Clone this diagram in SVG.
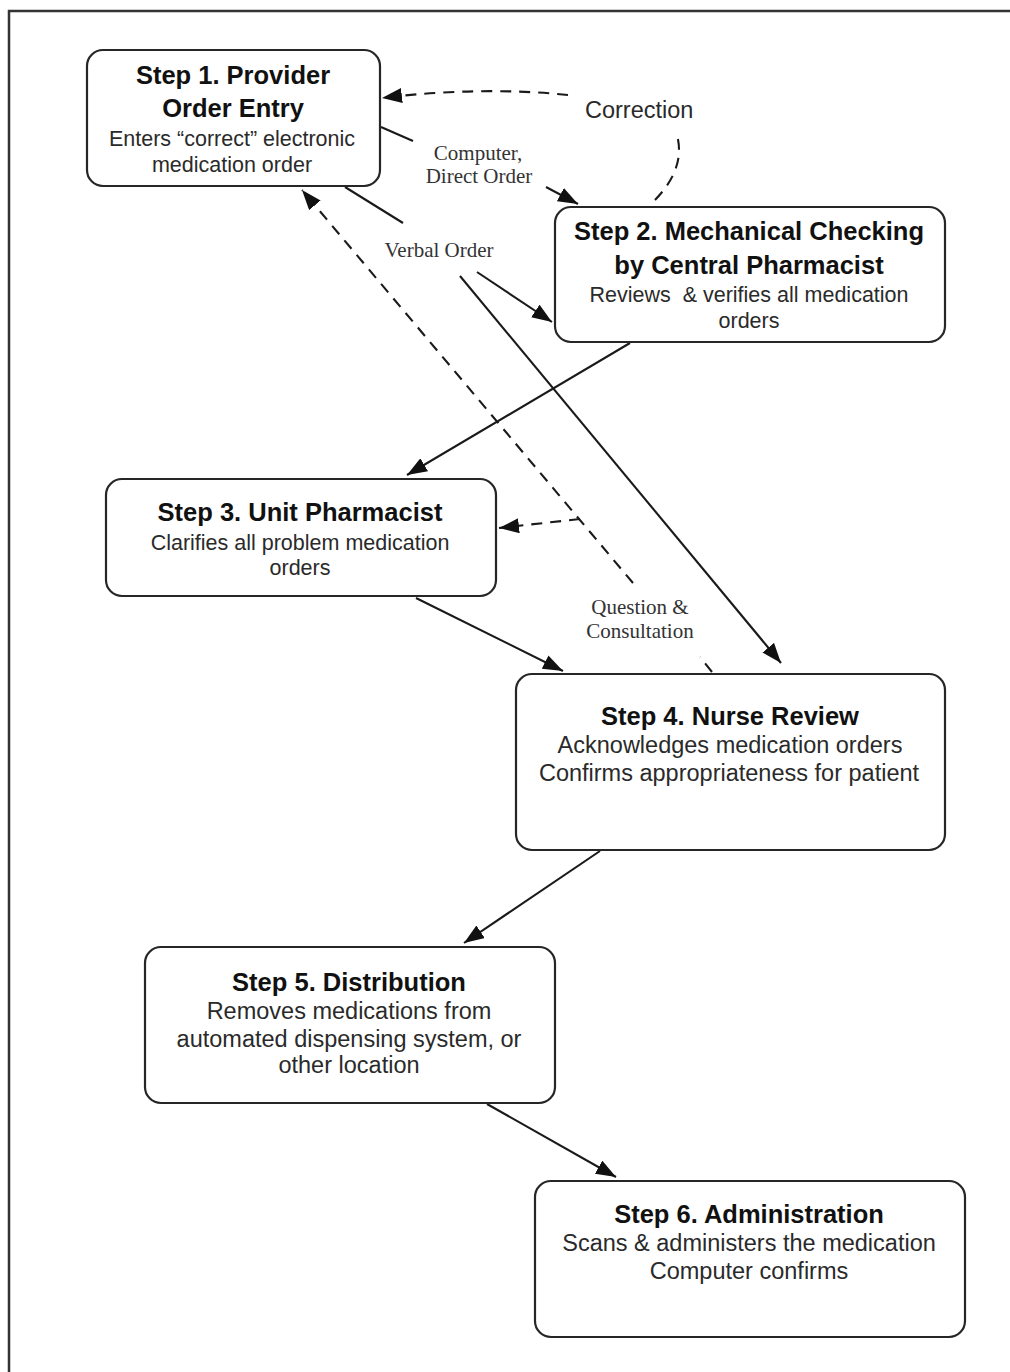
<svg xmlns="http://www.w3.org/2000/svg" width="1010" height="1372" viewBox="0 0 1010 1372">
  <style>
    .box { fill: #ffffff; stroke: #262626; stroke-width: 2.2; }
    .title { font-family: "Liberation Sans", Arial, sans-serif; font-weight: bold; font-size: 25.5px; fill: #111; text-anchor: middle; }
    .sub { font-family: "Liberation Sans", Arial, sans-serif; font-size: 21.5px; fill: #2a2a2a; text-anchor: middle; }
    .sub-lg { font-family: "Liberation Sans", Arial, sans-serif; font-size: 23.5px; fill: #2a2a2a; text-anchor: middle; }
    .lbl { font-family: "Liberation Serif", "Times New Roman", serif; font-size: 21px; fill: #333; text-anchor: middle; }
    .lbl-sans { font-family: "Liberation Sans", Arial, sans-serif; font-size: 23.5px; fill: #2a2a2a; }
    .edge { fill: none; stroke: #1a1a1a; stroke-width: 2.1; }
    .dash { fill: none; stroke: #1a1a1a; stroke-width: 2.1; stroke-dasharray: 11 8; }
  </style>
  <defs>
    <marker id="arrow" markerUnits="userSpaceOnUse" markerWidth="22" markerHeight="16" refX="20" refY="7.5" orient="auto">
      <path d="M0,0 L20,7.5 L0,15 z" fill="#111"/>
    </marker>
  </defs>

  <!-- outer frame -->
  <path d="M9,1372 L9,11 L1010,11" fill="none" stroke="#333" stroke-width="2.5"/>

  <!-- connectors -->
  <g id="connectors">
    <!-- computer / direct order: step 1 to step 2 -->
    <line class="edge" x1="381" y1="127" x2="413" y2="141"/>
    <line class="edge" x1="546" y1="187" x2="578" y2="204" marker-end="url(#arrow)"/>
    <!-- correction: step 2 back to step 1 -->
    <path class="dash" d="M655,200 Q686,168 677,135"/>
    <path class="dash" d="M568,95 Q480,86 382,98" marker-end="url(#arrow)"/>
    <!-- verbal order -->
    <line class="edge" x1="345" y1="187" x2="403" y2="223"/>
    <line class="edge" x1="477" y1="272" x2="552" y2="322" marker-end="url(#arrow)"/>
    <line class="edge" x1="460" y1="276" x2="781" y2="663" marker-end="url(#arrow)"/>
    <!-- step 2 to step 3 -->
    <line class="edge" x1="630" y1="343" x2="407" y2="475" marker-end="url(#arrow)"/>
    <!-- question & consultation: step 4 back to step 1 and step 3 -->
    <line class="dash" x1="712" y1="672" x2="700" y2="657" stroke-dasharray="14 6"/>
    <line class="dash" x1="633" y1="583" x2="302" y2="190" marker-end="url(#arrow)"/>
    <line class="dash" x1="580" y1="519" x2="499" y2="528" marker-end="url(#arrow)"/>
    <!-- step 3 to step 4 -->
    <line class="edge" x1="416" y1="598" x2="563" y2="671" marker-end="url(#arrow)" stroke-width="2.5"/>
    <!-- step 4 to step 5 -->
    <line class="edge" x1="600" y1="851" x2="464" y2="943" marker-end="url(#arrow)"/>
    <!-- step 5 to step 6 -->
    <line class="edge" x1="487" y1="1104" x2="616" y2="1177" marker-end="url(#arrow)"/>
  </g>

  <!-- connector labels -->
  <g id="labels">
    <text class="lbl-sans" x="585" y="118">Correction</text>
    <text class="lbl" x="478" y="160">Computer,</text>
    <text class="lbl" x="479" y="183">Direct Order</text>
    <text class="lbl" x="439" y="257">Verbal Order</text>
    <text class="lbl" x="640" y="614">Question &amp;</text>
    <text class="lbl" x="640" y="638">Consultation</text>
  </g>

  <g id="step1">
    <rect class="box" x="87" y="50" width="293" height="136" rx="16"/>
    <text class="title" x="233" y="84">Step 1. Provider</text>
    <text class="title" x="233" y="117">Order Entry</text>
    <text class="sub" x="232" y="146">Enters “correct” electronic</text>
    <text class="sub" x="232" y="172">medication order</text>
  </g>

  <g id="step2">
    <rect class="box" x="555" y="207" width="390" height="135" rx="16"/>
    <text class="title" x="749" y="240">Step 2. Mechanical Checking</text>
    <text class="title" x="749" y="274">by Central Pharmacist</text>
    <text class="sub" x="749" y="302" xml:space="preserve">Reviews  &amp; verifies all medication</text>
    <text class="sub" x="749" y="328">orders</text>
  </g>

  <g id="step3">
    <rect class="box" x="106" y="479" width="390" height="117" rx="16"/>
    <text class="title" x="300" y="521">Step 3. Unit Pharmacist</text>
    <text class="sub" x="300" y="550">Clarifies all problem medication</text>
    <text class="sub" x="300" y="575">orders</text>
  </g>

  <g id="step4">
    <rect class="box" x="516" y="674" width="429" height="176" rx="16"/>
    <text class="title" x="730" y="725">Step 4. Nurse Review</text>
    <text class="sub-lg" x="730" y="753">Acknowledges medication orders</text>
    <text class="sub-lg" x="729" y="781">Confirms appropriateness for patient</text>
  </g>

  <g id="step5">
    <rect class="box" x="145" y="947" width="410" height="156" rx="16"/>
    <text class="title" x="349" y="991">Step 5. Distribution</text>
    <text class="sub-lg" x="349" y="1019">Removes medications from</text>
    <text class="sub-lg" x="349" y="1047">automated dispensing system, or</text>
    <text class="sub-lg" x="349" y="1073">other location</text>
  </g>

  <g id="step6">
    <rect class="box" x="535" y="1181" width="430" height="156" rx="16"/>
    <text class="title" x="749" y="1223">Step 6. Administration</text>
    <text class="sub-lg" x="749" y="1251">Scans &amp; administers the medication</text>
    <text class="sub-lg" x="749" y="1279">Computer confirms</text>
  </g>
</svg>
